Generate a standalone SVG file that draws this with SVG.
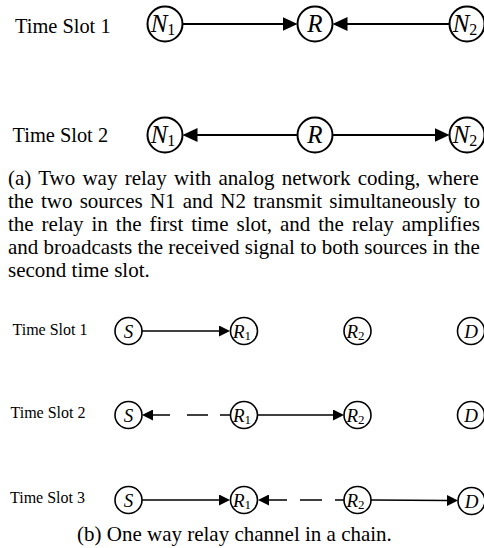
<svg xmlns="http://www.w3.org/2000/svg" width="484" height="548" viewBox="0 0 484 548" font-family="'Liberation Serif', 'DejaVu Serif', serif">
<style>
text{font-family:'Liberation Serif','DejaVu Serif',serif;fill:#000}
.big{fill:#fff;stroke:#000;stroke-width:2}
.sm{fill:#fff;stroke:#000;stroke-width:1.6}
.lb{font-size:25px;font-style:italic}
.ls{font-size:19px;font-style:italic}
.sub{font-style:normal}
.ts{font-size:20.4px}
.tb{font-size:16px}
.cap{font-size:21px}
.e1{stroke:#000;stroke-width:2;fill:none}
.e2{stroke:#000;stroke-width:1.6;fill:none}
</style>
<defs>
<marker id="ah" viewBox="0 0 15 14" markerWidth="15" markerHeight="14" refX="2" refY="7" orient="auto" markerUnits="userSpaceOnUse"><path d="M0,0 L15,7 L0,14 z" fill="#000"/></marker>
<marker id="as" viewBox="0 0 11 11" markerWidth="11" markerHeight="11" refX="2" refY="5.5" orient="auto" markerUnits="userSpaceOnUse"><path d="M0,0 L11,5.5 L0,11 z" fill="#000"/></marker>
</defs>
<rect width="484" height="548" fill="#fff"/>

<g id="labels">
<text class="ts" x="15" y="33">Time Slot 1</text>
<text class="ts" x="12.5" y="142">Time Slot 2</text>
<text class="tb" x="12.5" y="335">Time Slot 1</text>
<text class="tb" x="10.5" y="418">Time Slot 2</text>
<text class="tb" x="10" y="503">Time Slot 3</text>
</g>

<g id="connectors">
<line class="e1" x1="182.5" y1="24" x2="284.5" y2="24" marker-end="url(#ah)"/>
<line class="e1" x1="449.5" y1="24" x2="345.5" y2="24" marker-end="url(#ah)"/>
<line class="e1" x1="297.5" y1="135" x2="195.5" y2="135" marker-end="url(#ah)"/>
<line class="e1" x1="332.5" y1="135" x2="436.5" y2="135" marker-end="url(#ah)"/>
<line class="e2" x1="142" y1="331" x2="221" y2="331" marker-end="url(#as)"/>
<line class="e2" x1="230" y1="415" x2="151" y2="415" stroke-dasharray="10 12 21 17 40" marker-end="url(#as)"/>
<line class="e2" x1="258" y1="415" x2="335" y2="415" marker-end="url(#as)"/>
<line class="e2" x1="142" y1="500" x2="221" y2="500" marker-end="url(#as)"/>
<line class="e2" x1="344" y1="500" x2="267" y2="500" stroke-dasharray="9 13 22 13 40" marker-end="url(#as)"/>
<line class="e2" x1="371" y1="500" x2="449" y2="500.5" marker-end="url(#as)"/>
</g>

<g id="n1-slot1"><circle class="big" cx="165" cy="24" r="17.5"/><text class="lb" x="163" y="32" text-anchor="middle">N<tspan class="sub" font-size="16" dy="3">1</tspan></text></g>
<g id="r-slot1"><circle class="big" cx="315" cy="24" r="17.5"/><text class="lb" x="315" y="32" text-anchor="middle">R</text></g>
<g id="n2-slot1"><circle class="big" cx="467" cy="24" r="17.5"/><text class="lb" x="465" y="32" text-anchor="middle">N<tspan class="sub" font-size="16" dy="3">2</tspan></text></g>

<g id="n1-slot2"><circle class="big" cx="165" cy="135" r="17.5"/><text class="lb" x="163" y="143" text-anchor="middle">N<tspan class="sub" font-size="16" dy="3">1</tspan></text></g>
<g id="r-slot2"><circle class="big" cx="315" cy="135" r="17.5"/><text class="lb" x="315" y="143" text-anchor="middle">R</text></g>
<g id="n2-slot2"><circle class="big" cx="467" cy="135" r="17.5"/><text class="lb" x="465" y="143" text-anchor="middle">N<tspan class="sub" font-size="16" dy="3">2</tspan></text></g>

<g id="caption-a">
<text class="cap" x="8" y="185" word-spacing="2">(a) Two way relay with analog network coding, where</text>
<text class="cap" x="8" y="208" word-spacing="2">the two sources N1 and N2 transmit simultaneously to</text>
<text class="cap" x="8" y="231" word-spacing="2.7">the relay in the first time slot, and the relay amplifies</text>
<text class="cap" x="8" y="254">and broadcasts the received signal to both sources in the</text>
<text class="cap" x="8" y="277">second time slot.</text>
</g>

<g id="s-slot1"><circle class="sm" cx="128.5" cy="331" r="13.5"/><text class="ls" x="128.5" y="337.5" text-anchor="middle">S</text></g>
<g id="r1-slot1"><circle class="sm" cx="244" cy="331" r="13.5"/><text class="ls" x="242" y="337.5" text-anchor="middle">R<tspan class="sub" font-size="13" dy="2">1</tspan></text></g>
<g id="r2-slot1"><circle class="sm" cx="357.5" cy="331" r="13.5"/><text class="ls" x="355.5" y="337.5" text-anchor="middle">R<tspan class="sub" font-size="13" dy="2">2</tspan></text></g>
<g id="d-slot1"><circle class="sm" cx="471" cy="331" r="13.5"/><text class="ls" x="471" y="337.5" text-anchor="middle">D</text></g>

<g id="s-slot2"><circle class="sm" cx="128.5" cy="415" r="13.5"/><text class="ls" x="128.5" y="421.5" text-anchor="middle">S</text></g>
<g id="r1-slot2"><circle class="sm" cx="244" cy="415" r="13.5"/><text class="ls" x="242" y="421.5" text-anchor="middle">R<tspan class="sub" font-size="13" dy="2">1</tspan></text></g>
<g id="r2-slot2"><circle class="sm" cx="357.5" cy="415" r="13.5"/><text class="ls" x="355.5" y="421.5" text-anchor="middle">R<tspan class="sub" font-size="13" dy="2">2</tspan></text></g>
<g id="d-slot2"><circle class="sm" cx="471" cy="415" r="13.5"/><text class="ls" x="471" y="421.5" text-anchor="middle">D</text></g>

<g id="s-slot3"><circle class="sm" cx="128.5" cy="500" r="13.5"/><text class="ls" x="128.5" y="506.5" text-anchor="middle">S</text></g>
<g id="r1-slot3"><circle class="sm" cx="244" cy="500" r="13.5"/><text class="ls" x="242" y="506.5" text-anchor="middle">R<tspan class="sub" font-size="13" dy="2">1</tspan></text></g>
<g id="r2-slot3"><circle class="sm" cx="357.5" cy="500" r="13.5"/><text class="ls" x="355.5" y="506.5" text-anchor="middle">R<tspan class="sub" font-size="13" dy="2">2</tspan></text></g>
<g id="d-slot3"><circle class="sm" cx="471.5" cy="501" r="13.5"/><text class="ls" x="471.5" y="507.5" text-anchor="middle">D</text></g>

<g id="caption-b"><text class="cap" x="77" y="541" font-size="21.3">(b) One way relay channel in a chain.</text></g>
</svg>
